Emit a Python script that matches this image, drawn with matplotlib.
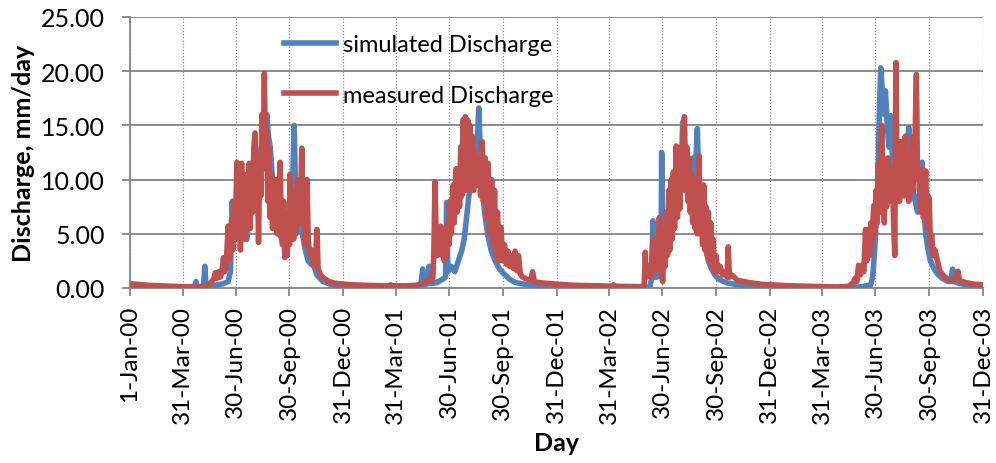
"""Simulated vs measured daily discharge, 2000-2003."""
import matplotlib
matplotlib.use("Agg")
import matplotlib.pyplot as plt
import pandas as pd

START = pd.Timestamp("2000-01-01")

TICK_LABELS = ["1-Jan-00", "31-Mar-00", "30-Jun-00", "30-Sep-00", "31-Dec-00",
               "31-Mar-01", "30-Jun-01", "30-Sep-01", "31-Dec-01",
               "31-Mar-02", "30-Jun-02", "30-Sep-02", "31-Dec-02",
               "31-Mar-03", "30-Jun-03", "30-Sep-03", "31-Dec-03"]
Y_TICKS = [0, 5, 10, 15, 20, 25]

# simulated discharge (mm/day), days counted from 1-Jan-00
sim_day = [
    0, 30, 60, 90, 110, 113, 115, 126, 128, 130, 140, 150, 160, 168, 172, 175, 177, 181, 185, 190,
    195, 200, 205, 210, 215, 220, 225, 229, 232, 234, 237, 240, 244, 248, 252, 256, 260, 265, 270,
    274, 278, 281, 283, 286, 290, 295, 300, 305, 310, 315, 320, 330, 345, 365,
    # 2001
    390, 420, 445, 446, 448, 490, 498, 501, 503, 510, 512, 514, 525, 535, 540, 542, 544, 550, 556,
    562, 568, 572, 576, 580, 585, 590, 594, 597, 600, 603, 607, 612, 618, 625, 632, 640, 650, 660,
    680, 700, 730,
    # 2002
    760, 800, 827, 828, 830, 880, 890, 893, 895, 897, 902, 906, 909, 910, 912, 915, 918, 922, 926,
    930, 935, 940, 943, 946, 949, 952, 956, 960, 964, 967, 971, 974, 978, 982, 986, 990, 995, 1000,
    1008, 1020, 1040, 1060, 1095,
    # 2003
    1150, 1200, 1230, 1250, 1260, 1268, 1271, 1274, 1277, 1280, 1283, 1285, 1288, 1291, 1293, 1296,
    1299, 1302, 1305, 1308, 1312, 1316, 1320, 1324, 1328, 1333, 1336, 1340, 1344, 1348, 1352, 1356,
    1359, 1362, 1366, 1370, 1376, 1382, 1390, 1400, 1405, 1408, 1411, 1420, 1440, 1460,
]
sim_q = [
    0.3, 0.15, 0.08, 0.05, 0.05, 0.6, 0.08, 0.1, 2.0, 0.2, 0.2, 0.3, 0.4, 0.6, 1.5, 8.0, 5.0, 4.5, 6.0, 5.5,
    5.0, 4.5, 7.0, 9.0, 11.0, 12.0, 13.0, 15.0, 14.0, 16.0, 14.0, 13.0, 10.0, 6.0, 5.5, 5.0, 4.5, 4.0, 6.0,
    8.0, 9.0, 15.0, 10.0, 7.0, 6.0, 5.0, 3.5, 2.5, 2.2, 2.0, 1.2, 0.6, 0.3, 0.15,
    # 2001
    0.1, 0.05, 0.05, 0.3, 0.05, 0.1, 0.3, 1.75, 0.3, 0.4, 2.0, 0.4, 0.5, 0.8, 1.0, 7.9, 1.5, 2.0, 1.5,
    2.5, 3.5, 4.5, 6.5, 8.5, 9.5, 11.0, 13.0, 16.6, 12.0, 9.0, 7.0, 5.0, 3.5, 2.5, 1.8, 1.3, 0.8, 0.5,
    0.3, 0.15, 0.1,
    # 2002
    0.05, 0.05, 0.05, 0.3, 0.05, 0.05, 0.1, 1.0, 6.2, 1.0, 1.0, 1.5, 3.0, 12.5, 4.0, 3.0, 4.0, 5.0, 6.0,
    6.5, 7.0, 7.5, 10.0, 15.3, 11.0, 9.0, 8.5, 9.5, 12.0, 10.0, 14.7, 9.0, 6.0, 4.5, 3.5, 2.5, 1.8, 1.3,
    0.8, 0.5, 0.3, 0.2, 0.1,
    # 2003
    0.05, 0.05, 0.05, 0.1, 0.2, 0.3, 1.0, 3.0, 6.0, 10.0, 17.0, 20.3, 18.0, 16.0, 18.2, 15.0,
    13.0, 15.9, 12.0, 10.0, 12.0, 10.0, 11.0, 9.5, 12.0, 14.8, 10.0, 9.0, 8.0, 7.0, 9.0, 11.6,
    7.0, 5.0, 3.5, 2.5, 1.8, 1.3, 0.9, 0.6, 0.6, 1.75, 0.6, 0.4, 0.25, 0.2,
]

# measured discharge (mm/day)
obs_day = [
    0, 30, 60, 90, 120, 135, 143, 146, 149, 152, 155, 158, 160, 162, 165, 168, 170, 172, 174, 176,
    178, 180, 183, 185, 187, 189, 191, 193, 195, 197, 200, 202, 204, 206, 208, 210, 212, 214, 216,
    218, 220, 222, 224, 226, 228, 230, 232, 234, 236, 238, 240, 242, 244, 246, 248, 250, 252, 254,
    257, 259, 261, 263, 265, 267, 269, 271, 273, 274, 276, 278, 280, 282, 284, 287, 290, 292, 294,
    296, 298, 300, 303, 305, 308, 311, 314, 317, 320, 322, 326, 332, 340, 350, 365,
    # 2001
    400, 440, 470, 490, 500, 508, 514, 518, 520, 522, 524, 526, 528, 530, 532, 534, 536, 538, 540,
    542, 544, 546, 548, 550, 553, 555, 558, 560, 562, 564, 566, 568, 570, 572, 574, 576, 578, 580,
    582, 584, 586, 588, 590, 592, 594, 596, 598, 600, 603, 605, 608, 610, 613, 616, 619, 621, 624,
    626, 629, 632, 635, 638, 641, 644, 647, 650, 653, 656, 659, 662, 665, 668, 672, 680, 686, 689,
    692, 700, 730,
    # 2002
    760, 800, 840, 880, 882, 884, 886, 888, 890, 892, 895, 897, 899, 901, 904, 906, 908, 910, 912,
    914, 916, 918, 920, 922, 924, 926, 928, 930, 932, 935, 937, 939, 941, 943, 945, 947, 949, 951,
    953, 955, 957, 959, 961, 963, 965, 967, 969, 971, 974, 976, 978, 980, 982, 984, 986, 988, 990,
    992, 994, 996, 998, 1000, 1003, 1006, 1010, 1014, 1018, 1022, 1024, 1026, 1030, 1040, 1060,
    1080, 1095,
    # 2003
    1130, 1170, 1210, 1230, 1238, 1241, 1244, 1247, 1250, 1253, 1256, 1259, 1261, 1264, 1266, 1268,
    1270, 1273, 1275, 1277, 1279, 1281, 1283, 1285, 1287, 1289, 1291, 1293, 1295, 1297, 1299, 1301,
    1303, 1305, 1307, 1309, 1311, 1313, 1315, 1317, 1319, 1321, 1323, 1325, 1327, 1329, 1331, 1333,
    1335, 1337, 1339, 1341, 1343, 1346, 1348, 1351, 1353, 1356, 1358, 1360, 1362, 1364, 1366, 1368,
    1370, 1372, 1375, 1378, 1382, 1386, 1390, 1395, 1400, 1408, 1414, 1417, 1420, 1430, 1445, 1460,
]
obs_q = [
    0.4, 0.25, 0.18, 0.12, 0.12, 0.3, 0.8, 1.4, 0.9, 1.5, 1.0, 1.8, 2.8, 1.5, 2.5, 5.7, 2.5, 4.0, 6.3, 3.5,
    8.0, 4.5, 11.6, 5.0, 10.0, 3.5, 11.5, 6.0, 9.0, 4.5, 10.5, 6.0, 11.5, 5.5, 11.5, 7.0, 13.0, 14.3, 8.0,
    11.0, 4.2, 12.0, 8.5, 16.0, 12.0, 19.8, 11.0, 14.5, 8.0, 13.0, 6.5, 10.5, 5.5, 9.0, 6.0, 10.0, 5.0, 8.0,
    11.6, 5.5, 4.0, 8.0, 2.8, 6.5, 3.0, 7.0, 4.0, 10.5, 5.0, 9.0, 4.5, 8.0, 5.0, 10.0, 6.0, 8.0, 12.9,
    6.0, 8.0, 4.0, 10.0, 4.5, 3.0, 3.5, 2.2, 2.0, 5.4, 1.8, 1.2, 0.9, 0.6, 0.45, 0.35,
    # 2001
    0.25, 0.2, 0.2, 0.25, 0.4, 0.6, 0.9, 0.7, 3.0, 9.8, 4.5, 3.0, 5.0, 3.5, 5.7, 3.0, 5.5, 2.5, 5.0,
    3.0, 6.0, 4.0, 8.0, 5.0, 9.5, 6.0, 11.0, 7.0, 10.5, 7.5, 13.0, 8.5, 15.5, 9.5, 15.8, 9.0, 15.5, 9.0,
    15.0, 9.5, 14.0, 9.0, 12.5, 9.5, 12.0, 9.5, 11.5, 8.5, 13.5, 8.0, 12.0, 6.5, 11.5, 5.0, 10.0, 4.0, 9.0,
    3.0, 7.0, 2.5, 5.6, 2.5, 4.0, 2.2, 3.4, 2.0, 3.0, 1.8, 3.4, 1.6, 3.0, 1.3, 1.0, 0.8, 0.7, 1.5,
    0.6, 0.5, 0.35,
    # 2002
    0.25, 0.2, 0.15, 0.12, 3.3, 1.0, 2.0, 1.2, 1.8, 1.0, 4.6, 1.5, 4.0, 1.7, 3.0, 6.5, 2.0, 1.0, 0.6,
    5.5, 2.0, 7.0, 3.0, 9.0, 3.5, 10.0, 4.5, 10.7, 5.5, 13.1, 6.5, 11.5, 7.3, 13.0, 9.0, 14.5, 15.8, 9.5,
    13.0, 8.0, 12.0, 7.0, 10.5, 6.0, 9.0, 5.5, 10.0, 5.0, 12.2, 5.0, 8.5, 4.0, 9.5, 3.5, 7.5, 3.0, 7.0,
    2.5, 6.0, 2.0, 4.5, 1.5, 3.0, 1.5, 2.0, 1.2, 1.5, 1.0, 3.8, 1.0, 1.2, 0.7, 0.5,
    0.35, 0.3,
    # 2003
    0.2, 0.15, 0.1, 0.15, 0.5, 0.9, 0.6, 2.1, 1.2, 2.1, 1.5, 5.4, 2.5, 5.4, 3.0, 6.0,
    4.0, 7.6, 5.0, 9.0, 6.0, 11.5, 7.0, 13.0, 15.0, 8.0, 6.0, 11.0, 7.5, 12.0, 8.0, 11.0,
    9.0, 10.5, 6.0, 3.0, 20.8, 10.0, 12.5, 8.0, 13.5, 9.0, 11.0, 8.5, 14.0, 9.0, 12.0, 8.0,
    11.5, 9.5, 13.9, 9.0, 12.0, 19.7, 10.0, 11.0, 7.0, 11.0, 6.5, 9.5, 10.8, 5.5, 8.5, 8.2,
    4.0, 4.9, 3.0, 3.5, 2.5, 1.6, 1.3, 1.0, 0.8, 0.7, 0.8, 1.55, 0.7, 0.5, 0.35, 0.3,
]

BLUE = "#4F81BD"
RED = "#C0504D"
GRID = "#8C8C8C"

plt.rcParams["font.family"] = ["Lato", "DejaVu Sans"]

sim_dates = START + pd.to_timedelta(sim_day, unit="D")
obs_dates = START + pd.to_timedelta(obs_day, unit="D")
tick_dates = pd.to_datetime(TICK_LABELS, format="%d-%b-%y")

fig = plt.figure(figsize=(9.96, 4.64), dpi=100)
ax = fig.add_axes([130 / 996, 1 - 289 / 464, 853 / 996, 271 / 464])

ax.plot(sim_dates, sim_q, color=BLUE, lw=4.0, solid_joinstyle="round",
        label="simulated Discharge", zorder=3)
ax.plot(obs_dates, obs_q, color=RED, lw=4.0, solid_joinstyle="round",
        label="measured Discharge", zorder=4)

ax.set_xlim(tick_dates[0], tick_dates[-1])
ax.set_ylim(0, 25)
ax.set_yticks(Y_TICKS)
ax.set_yticklabels([f"{v:.2f}" for v in Y_TICKS], fontsize=18)
ax.set_xticks(tick_dates)
ax.set_xticklabels(TICK_LABELS, rotation=90, fontsize=17.5)

ax.grid(axis="y", color=GRID, lw=1.4, ls="-", zorder=0)
ax.grid(axis="x", color=GRID, lw=0.9, ls=(0, (1, 1.5)), zorder=0)
ax.set_axisbelow(True)
for side in ("top", "right"):
    ax.spines[side].set_visible(False)
for side in ("left", "bottom"):
    ax.spines[side].set_color(GRID)
    ax.spines[side].set_linewidth(1.4)
ax.tick_params(axis="both", direction="out", length=6, width=1.4, color=GRID)
ax.tick_params(axis="y", pad=12)
ax.tick_params(axis="x", pad=6)

ax.set_ylabel("Discharge, mm/day", fontsize=18, fontweight="bold", labelpad=4)
ax.set_xlabel("Day", fontsize=18, fontweight="bold", labelpad=6)

fig.legend(loc="upper left", bbox_to_anchor=(284 / 996, 1 - 35 / 464),
           frameon=False, fontsize=17, handlelength=2.2, handletextpad=0.3,
           labelspacing=1.25, borderpad=0, borderaxespad=0)

fig.savefig("out.png", dpi=100)
